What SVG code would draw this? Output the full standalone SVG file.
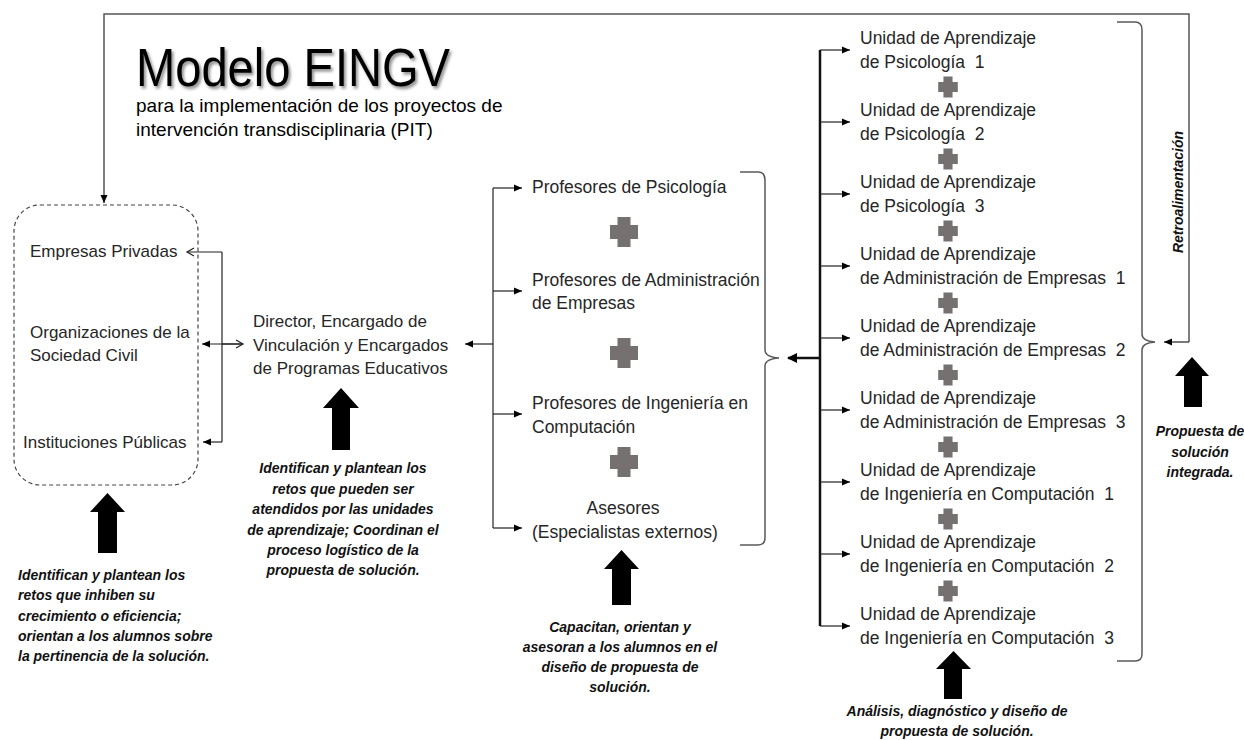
<svg xmlns="http://www.w3.org/2000/svg" xmlns:xlink="http://www.w3.org/1999/xlink" width="1244" height="740" viewBox="0 0 1244 740">
<style>
.t{font-family:"Liberation Sans",Arial,sans-serif;font-size:17px;fill:#262626}
.u{font-family:"Liberation Sans",Arial,sans-serif;font-size:17.5px;fill:#262626;white-space:pre}
.c{font-family:"Liberation Sans",Arial,sans-serif;font-size:14px;font-weight:bold;font-style:italic;fill:#111}
.ln{fill:none;stroke:#222;stroke-width:1.2}
.br{fill:none;stroke:#5a5a5a;stroke-width:1.5}
.blk{fill:#000}
.pl{fill:#767171}
</style>
<defs>
<marker id="ah" markerUnits="userSpaceOnUse" markerWidth="9" markerHeight="8" refX="8" refY="4" orient="auto"><path d="M0,0.5 L8,4 L0,7.5 z" fill="#000"/></marker>
<marker id="oh" markerUnits="userSpaceOnUse" markerWidth="10" markerHeight="10" refX="8" refY="5" orient="auto"><path d="M1,1 L8,5 L1,9" fill="none" stroke="#222" stroke-width="1.2"/></marker>
<path id="plus" d="M-6.5,-15 h13 v8 h7.5 v14 h-7.5 v8 h-13 v-8 h-7.5 v-14 h7.5 z"/>
<filter id="sh" x="-5%" y="-20%" width="115%" height="150%"><feDropShadow dx="2" dy="2.5" stdDeviation="1.5" flood-color="#000" flood-opacity="0.45"/></filter>
</defs>

<g id="title">
<text x="136" y="86" font-family="Liberation Sans, Arial, sans-serif" font-size="54" fill="#000" textLength="314" lengthAdjust="spacingAndGlyphs" filter="url(#sh)">Modelo EINGV</text>
<text x="136" y="112" font-family="Liberation Sans, Arial, sans-serif" font-size="19" fill="#000">para la implementación de los proyectos de</text>
<text x="136" y="136" font-family="Liberation Sans, Arial, sans-serif" font-size="19" fill="#000">intervención transdisciplinaria (PIT)</text>
</g>

<g id="connectors">
<path d="M1189,342 V14 H104 V203" fill="none" stroke="#555" stroke-width="1.5" marker-end="url(#ah)"/>
<path d="M1189,342 H1164" class="ln" marker-end="url(#ah)"/>
<path d="M222,252 V442" class="ln"/>
<path d="M222,252 H187" class="ln" marker-end="url(#oh)"/>
<path d="M222,442 H203" class="ln" marker-end="url(#ah)"/>
<path d="M243,344 H202" class="ln" marker-end="url(#ah)"/>
<path d="M222,344 H243" class="ln" marker-end="url(#oh)"/>
<path d="M493,344 H465" class="ln" marker-end="url(#ah)"/>
<path d="M493,188 V528" class="ln"/>
<path d="M493,188 H522" class="ln" marker-end="url(#ah)"/>
<path d="M493,291 H522" class="ln" marker-end="url(#ah)"/>
<path d="M493,414 H522" class="ln" marker-end="url(#ah)"/>
<path d="M493,528 H522" class="ln" marker-end="url(#ah)"/>
<path d="M820,50 V626" fill="none" stroke="#111" stroke-width="2.5"/>
<path d="M821,358 H788" fill="none" stroke="#111" stroke-width="2.5"/>
<path d="M797,353 L787,358 L797,363 z" fill="#000"/>
<path d="M820,50 H850" class="ln" marker-end="url(#ah)"/>
<path d="M820,122 H850" class="ln" marker-end="url(#ah)"/>
<path d="M820,194 H850" class="ln" marker-end="url(#ah)"/>
<path d="M820,266 H850" class="ln" marker-end="url(#ah)"/>
<path d="M820,338 H850" class="ln" marker-end="url(#ah)"/>
<path d="M820,410 H850" class="ln" marker-end="url(#ah)"/>
<path d="M820,482 H850" class="ln" marker-end="url(#ah)"/>
<path d="M820,554 H850" class="ln" marker-end="url(#ah)"/>
<path d="M820,626 H850" class="ln" marker-end="url(#ah)"/>
<path class="br" d="M740,172 H758 Q765,172 765,180 V350 Q765,357 779,358 Q765,359 765,366 V538 Q765,545 758,545 H740"/>
<path class="br" d="M1117,22 H1135 Q1142,22 1142,30 V334 Q1142,341 1155,342 Q1142,343 1142,350 V654 Q1142,661 1135,661 H1117"/>
</g>

<g id="sectores">
<rect x="14" y="205" width="184" height="280" rx="26" fill="none" stroke="#444" stroke-width="1.2" stroke-dasharray="4,3"/>
<text class="t" x="30" y="257">Empresas Privadas</text>
<text class="t" x="30" y="338">Organizaciones de la</text>
<text class="t" x="30" y="361">Sociedad Civil</text>
<text class="t" x="23" y="448">Instituciones Públicas</text>
</g>

<g id="director">
<text class="t" x="253" y="327">Director, Encargado de</text>
<text class="t" x="253" y="351">Vinculación y Encargados</text>
<text class="t" x="253" y="374">de Programas Educativos</text>
</g>

<g id="profesores">
<text class="u" x="532" y="193">Profesores de Psicología</text>
<use href="#plus" class="pl" x="624" y="232"/>
<text class="u" x="532" y="286">Profesores de Administración</text>
<text class="u" x="532" y="309">de Empresas</text>
<use href="#plus" class="pl" x="624" y="353"/>
<text class="u" x="532" y="409">Profesores de Ingeniería en</text>
<text class="u" x="532" y="433">Computación</text>
<use href="#plus" class="pl" x="624" y="462"/>
<text class="u" x="623" y="514" text-anchor="middle">Asesores</text>
<text class="u" x="532" y="538">(Especialistas externos)</text>
</g>

<g id="unidades">
<text class="u" x="860" y="44">Unidad de Aprendizaje</text>
<text class="u" x="860" y="68">de Psicología  1</text>
<use href="#plus" class="pl" transform="translate(948,87) scale(0.7)"/>
<text class="u" x="860" y="116">Unidad de Aprendizaje</text>
<text class="u" x="860" y="140">de Psicología  2</text>
<use href="#plus" class="pl" transform="translate(948,159) scale(0.7)"/>
<text class="u" x="860" y="188">Unidad de Aprendizaje</text>
<text class="u" x="860" y="212">de Psicología  3</text>
<use href="#plus" class="pl" transform="translate(948,231) scale(0.7)"/>
<text class="u" x="860" y="260">Unidad de Aprendizaje</text>
<text class="u" x="860" y="284">de Administración de Empresas  1</text>
<use href="#plus" class="pl" transform="translate(948,303) scale(0.7)"/>
<text class="u" x="860" y="332">Unidad de Aprendizaje</text>
<text class="u" x="860" y="356">de Administración de Empresas  2</text>
<use href="#plus" class="pl" transform="translate(948,375) scale(0.7)"/>
<text class="u" x="860" y="404">Unidad de Aprendizaje</text>
<text class="u" x="860" y="428">de Administración de Empresas  3</text>
<use href="#plus" class="pl" transform="translate(948,447) scale(0.7)"/>
<text class="u" x="860" y="476">Unidad de Aprendizaje</text>
<text class="u" x="860" y="500">de Ingeniería en Computación  1</text>
<use href="#plus" class="pl" transform="translate(948,519) scale(0.7)"/>
<text class="u" x="860" y="548">Unidad de Aprendizaje</text>
<text class="u" x="860" y="572">de Ingeniería en Computación  2</text>
<use href="#plus" class="pl" transform="translate(948,591) scale(0.7)"/>
<text class="u" x="860" y="620">Unidad de Aprendizaje</text>
<text class="u" x="860" y="644">de Ingeniería en Computación  3</text>
</g>

<g id="retro">
<text class="c" transform="translate(1183,192) rotate(-90)" text-anchor="middle">Retroalimentación</text>
</g>

<g id="arrows">
<path class="blk" d="M107.5,493 L125,512 L117,512 L117,553 L98,553 L98,512 L90,512 z"/>
<path class="blk" d="M341,388 L359,408 L350,408 L350,450 L332,450 L332,408 L323,408 z"/>
<path class="blk" d="M621.5,550 L639,569 L631,569 L631,605 L612,605 L612,569 L604,569 z"/>
<path class="blk" d="M953.5,651 L971,669 L962,669 L962,699 L944,699 L944,669 L936,669 z"/>
<path class="blk" d="M1192,357 L1209,376 L1202,376 L1202,407 L1184,407 L1184,376 L1175,376 z"/>
</g>

<g id="captions">
<text class="c" x="18" y="580">Identifican y plantean los</text>
<text class="c" x="18" y="600">retos que inhiben su</text>
<text class="c" x="18" y="621">crecimiento o eficiencia;</text>
<text class="c" x="18" y="641">orientan a los alumnos sobre</text>
<text class="c" x="18" y="661">la pertinencia de la solución.</text>

<text class="c" x="343" y="473" text-anchor="middle">Identifican y plantean los</text>
<text class="c" x="343" y="494" text-anchor="middle">retos que pueden ser</text>
<text class="c" x="343" y="514" text-anchor="middle">atendidos por las unidades</text>
<text class="c" x="343" y="535" text-anchor="middle">de aprendizaje; Coordinan el</text>
<text class="c" x="343" y="555" text-anchor="middle">proceso logístico de la</text>
<text class="c" x="343" y="575" text-anchor="middle">propuesta de solución.</text>

<text class="c" x="620" y="632" text-anchor="middle">Capacitan, orientan y</text>
<text class="c" x="620" y="652" text-anchor="middle">asesoran a los alumnos en el</text>
<text class="c" x="620" y="672" text-anchor="middle">diseño de propuesta de</text>
<text class="c" x="620" y="692" text-anchor="middle">solución.</text>

<text class="c" x="957" y="716" text-anchor="middle">Análisis, diagnóstico y diseño de</text>
<text class="c" x="957" y="736" text-anchor="middle">propuesta de solución.</text>

<text class="c" x="1200" y="436" text-anchor="middle">Propuesta de</text>
<text class="c" x="1200" y="457" text-anchor="middle">solución</text>
<text class="c" x="1200" y="477" text-anchor="middle">integrada.</text>
</g>
</svg>
